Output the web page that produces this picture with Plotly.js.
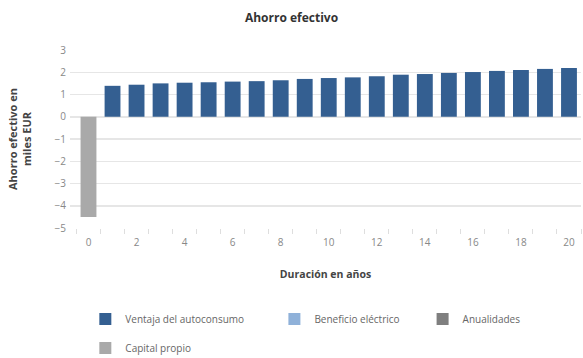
<!DOCTYPE html>
<html>
<head>
<meta charset="utf-8">
<script src="https://cdn.plot.ly/plotly-3.0.1.min.js"></script>
<style>html,body{margin:0;padding:0;background:#fff;}#chart{width:583px;height:358px;}</style>
</head>
<body>
<div id="chart"></div>
<script>
const years = [0,1,2,3,4,5,6,7,8,9,10,11,12,13,14,15,16,17,18,19,20];
const ventaja = [null,1.39,1.44,1.50,1.53,1.55,1.58,1.60,1.64,1.70,1.74,1.77,1.82,1.89,1.92,1.97,2.01,2.06,2.10,2.15,2.19];
const beneficio = [null,null,null,null,null,null,null,null,null,null,null,null,null,null,null,null,null,null,null,null,null];
const anualidades = [null,null,null,null,null,null,null,null,null,null,null,null,null,null,null,null,null,null,null,null,null];
const capital = [-4.5,null,null,null,null,null,null,null,null,null,null,null,null,null,null,null,null,null,null,null,null];
const xTicks = [0,2,4,6,8,10,12,14,16,18,20];
const yTicks = [-5,-4,-3,-2,-1,0,1,2,3];

const FONT = '"Open Sans", "DejaVu Sans", sans-serif';
const legFont = {family: FONT, size: 10, color: '#666'};

const traces = [
  {type:'bar', x: years, y: ventaja, name:'Ventaja del autoconsumo', marker:{color:'#345f91'}, legend:'legend', hoverinfo:'skip'},
  {type:'bar', x: years, y: beneficio, name:'Beneficio eléctrico', marker:{color:'#8fb1d9'}, legend:'legend2', hoverinfo:'skip'},
  {type:'bar', x: years, y: anualidades, name:'Anualidades', marker:{color:'#7f7f7f'}, legend:'legend3', hoverinfo:'skip'},
  {type:'bar', x: years, y: capital, name:'Capital propio', marker:{color:'#a9a9a9'}, legend:'legend4', hoverinfo:'skip'}
];

function leg(x, y) {
  return {x: x, y: y, xref:'paper', yref:'container', xanchor:'left', yanchor:'middle', orientation:'h', font: legFont, bgcolor:'rgba(0,0,0,0)', borderwidth:0};
}

const layout = {
  width: 583, height: 358,
  margin: {l:70, r:2, t:50, b:130, pad:0},
  paper_bgcolor:'#fff', plot_bgcolor:'#fff',
  barmode:'relative', bargap:0.34,
  font: {family: FONT, size: 10, color:'#777'},
  title: {text:'<b>Ahorro efectivo</b>', font:{family: FONT, size:12, color:'#333'}, x:0.5, xref:'container', y: 1 - 18/358, yref:'container', yanchor:'middle'},
  xaxis: {
    range: [-0.77, 20.5], tickmode:'array', tickvals: xTicks, ticks:'', showgrid:false, zeroline:false,
    showline:false, tickfont:{family: FONT, size:10, color:'#888'}, ticklabelstandoff: 7,
    minor: {tick0: -0.5, dtick: 1, ticks:'outside', ticklen:5, tickcolor:'#dedede', showgrid:false},
    title: {text:'<b>Duración en años</b>', font:{family: FONT, size:10.5, color:'#444'}, standoff: 22},
    fixedrange:true
  },
  yaxis: {
    range: [-5, 3], tickmode:'array', tickvals: yTicks, ticks:'', showgrid:true, gridcolor:'#e6e6e6', gridwidth:1.5,
    zeroline:false, showline:false, tickfont:{family: FONT, size:10, color:'#888'}, ticklabelstandoff: 3,
    title: {text:'<b>Ahorro efectivo en<br>miles EUR</b>', font:{family: FONT, size:11, color:'#444'}, standoff: 20},
    fixedrange:true
  },
  showlegend: true,
  legend: leg(0.030, 1 - 319/358),
  legend2: leg(0.400, 1 - 319/358),
  legend3: leg(0.690, 1 - 319/358),
  legend4: leg(0.030, 1 - 348/358)
};

Plotly.newPlot('chart', traces, layout, {displayModeBar:false, staticPlot:true});
</script>
</body>
</html>
